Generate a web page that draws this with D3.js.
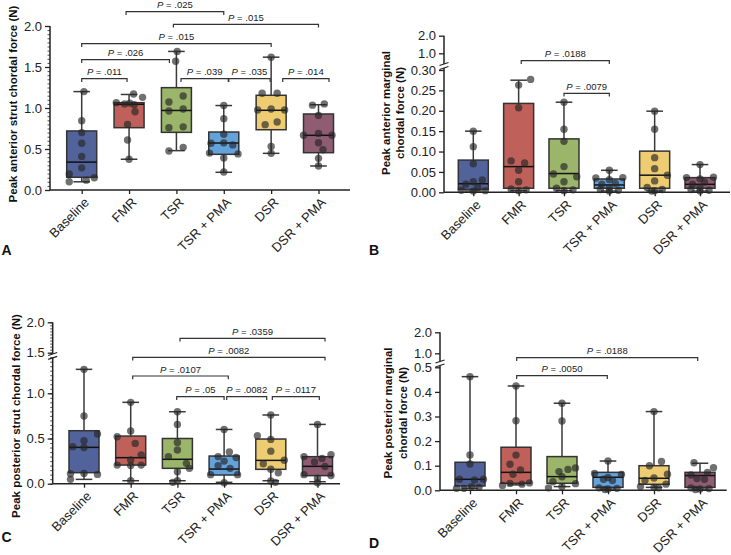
<!DOCTYPE html>
<html><head><meta charset="utf-8">
<script src="https://cdn.jsdelivr.net/npm/d3@7"></script>
<style>
body{margin:0;background:#fff}
svg{display:block;font-family:"Liberation Sans",Arial,Helvetica,sans-serif}
</style>
</head><body>
<svg id="chart" width="731" height="555"></svg>
<script>
// ---------------- DATA ----------------
const categories = ["Baseline", "FMR", "TSR", "TSR + PMA", "DSR", "DSR + PMA"];
const boxColors = ["#52639c", "#bf615a", "#9bb56b", "#64a2dc", "#eecd72", "#8f5c72"];

// Panel A: Peak anterior strut chordal force (N)   box = [min, q1, median, q3, max]
const boxesA = [
  [0.10, 0.155, 0.34, 0.72, 1.20],
  [0.375, 0.76, 1.045, 1.065, 1.165],
  [0.48, 0.703, 0.97, 1.248, 1.69],
  [0.216, 0.435, 0.573, 0.707, 1.03],
  [0.447, 0.735, 0.972, 1.155, 1.62],
  [0.293, 0.455, 0.667, 0.927, 1.04]
];
const pointsA = [
  [1.20, 0.845, 0.70, 0.57, 0.41, 0.27, 0.195, 0.10, 0.12, 0.15],
  [1.17, 1.13, 1.065, 1.05, 1.04, 0.955, 0.80, 0.61, 0.375, 1.06],
  [1.69, 1.57, 1.146, 1.073, 0.988, 0.963, 0.77, 0.76, 0.52, 0.475],
  [1.03, 0.87, 0.68, 0.575, 0.57, 0.45, 0.44, 0.55, 0.39, 0.22],
  [1.62, 1.18, 1.18, 0.976, 0.988, 0.976, 0.797, 0.83, 0.53, 0.447],
  [1.035, 1.05, 0.91, 0.667, 0.69, 0.667, 0.577, 0.49, 0.386, 0.293]
];
const jitterA = [
  [0.15, 0, 0, 0, 0, 0, -0.83, -0.83, 0.3, 0.84],
  [0.3, 0.9, -0.85, -0.3, 0.35, 0.4, -0.1, -0.1, 0, 0.05],
  [0.05, -0.05, 0.45, -0.5, 0.45, -0.5, 0.45, -0.5, 0.45, -0.5],
  [0, 0, 0, 0, -0.85, -0.95, 0.95, 0.6, 0, 0],
  [0, -0.6, 0.4, -0.9, 0, 0.9, -0.4, 0.4, 0, 0],
  [-0.4, 0.39, 0, -1, 0, 0.9, 0, 0.3, 0, 0]
];
const pvalsA = [[1, 3, ".025"], [2, 5, ".015"], [0, 4, ".015"], [0, 2, ".026"], [0, 1, ".011"], [2, 3, ".039"], [3, 4, ".035"], [4, 5, ".014"]];

// Panel B: Peak anterior marginal chordal force (N)
const boxesB = [
  [0.003, 0.007, 0.021, 0.079, 0.150],
  [0.004, 0.010, 0.063, 0.218, 0.275],
  [0.004, 0.010, 0.046, 0.131, 0.221],
  [0.003, 0.010, 0.018, 0.0326, 0.054],
  [0.003, 0.010, 0.042, 0.101, 0.199],
  [0.003, 0.010, 0.0196, 0.036, 0.068]
];
const pointsB = [
  [0.150, 0.112, 0.070, 0.030, 0.026, 0.020, 0.012, 0.005, 0.004, 0.003],
  [0.277, 0.263, 0.2075, 0.077, 0.072, 0.054, 0.026, 0.008, 0.006, 0.004],
  [0.221, 0.1545, 0.125, 0.063, 0.038, 0.045, 0.026, 0.010, 0.006, 0.004],
  [0.054, 0.035, 0.036, 0.031, 0.020, 0.022, 0.012, 0.007, 0.005, 0.003],
  [0.199, 0.1545, 0.085, 0.058, 0.042, 0.028, 0.012, 0.007, 0.004, 0.003],
  [0.068, 0.036, 0.037, 0.033, 0.025, 0.020, 0.012, 0.007, 0.005, 0.003]
];
const jitterB = [
  [0, 0, 0, 0.6, 0, -0.5, 0.3, -0.8, 0.8, 0],
  [0.8, 0, 0, -0.5, 0.4, 0, 0, -0.5, 0.5, 0],
  [0, 0, 0, 0, 0.85, -0.7, 0, -0.5, 0.6, 0],
  [0, -0.9, 0.9, 0, -0.5, 0.4, 0, -0.6, 0.6, 0],
  [0, 0, 0, 0, 0.85, 0, -0.5, 0.5, 0, -0.2],
  [0, -0.9, 0.9, 0, 0.3, -0.5, 0, -0.6, 0.6, 0]
];
const pvalsB = [[1, 3, ".0188"], [2, 3, ".0079"]];

// Panel C: Peak posterior strut chordal force (N)
const boxesC = [
  [0.048, 0.122, 0.402, 0.586, 1.265],
  [0.033, 0.206, 0.288, 0.527, 0.90],
  [0.033, 0.17, 0.27, 0.50, 0.796],
  [0.015, 0.096, 0.162, 0.306, 0.60],
  [0.033, 0.159, 0.258, 0.494, 0.76],
  [0.022, 0.089, 0.192, 0.299, 0.656]
];
const pointsC = [
  [1.265, 0.749, 0.549, 0.476, 0.41, 0.40, 0.114, 0.103, 0.11, 0.048],
  [0.90, 0.583, 0.52, 0.446, 0.317, 0.262, 0.206, 0.206, 0.20, 0.033],
  [0.796, 0.656, 0.457, 0.372, 0.30, 0.225, 0.17, 0.133, 0.033, 0.015],
  [0.60, 0.35, 0.30, 0.29, 0.25, 0.20, 0.17, 0.10, 0.10, 0.01],
  [0.76, 0.53, 0.49, 0.36, 0.26, 0.22, 0.16, 0.12, 0.03, 0.015],
  [0.656, 0.32, 0.30, 0.28, 0.24, 0.19, 0.10, 0.09, 0.06, 0.01]
];
const jitterC = [
  [0, 0, 0.9, 0, -0.75, 0, 0, 0.9, -0.9, -0.9],
  [0, 0, -0.9, 0.3, 0.7, 0, -0.9, 0.7, 0, 0],
  [0, 0, 0, 0, -0.6, 0.6, 0.8, 0, 0, -0.3],
  [0, 0.35, -0.4, 0.8, 0, -0.4, 0.4, -0.9, 0.9, 0],
  [0, -0.9, 0, 0, 0.9, -0.5, 0, 0.5, 0, 0.3],
  [0, 0.9, -0.9, 0.3, -0.2, 0.5, -0.9, 0.9, 0, 0]
];
const pvalsC = [[2, 5, ".0359"], [1, 5, ".0082"], [1, 3, ".0107"], [2, 3, ".05"], [3, 4, ".0082"], [4, 5, ".0117"]];

// Panel D: Peak posterior marginal chordal force (N)
const boxesD = [
  [0.008, 0.0176, 0.0447, 0.114, 0.462],
  [0.022, 0.0285, 0.073, 0.175, 0.424],
  [0.015, 0.0285, 0.0556, 0.137, 0.354],
  [0.005, 0.012, 0.053, 0.073, 0.119],
  [0.012, 0.0244, 0.0488, 0.100, 0.32],
  [0.005, 0.012, 0.06, 0.073, 0.11]
];
const pointsD = [
  [0.462, 0.144, 0.107, 0.045, 0.042, 0.045, 0.008, 0.008, 0.015, 0.012],
  [0.424, 0.283, 0.143, 0.106, 0.083, 0.065, 0.030, 0.028, 0.025, 0.020],
  [0.354, 0.282, 0.091, 0.085, 0.076, 0.055, 0.035, 0.027, 0.015, 0.010],
  [0.119, 0.068, 0.064, 0.052, 0.045, 0.040, 0.010, 0.008, 0.005, 0.003],
  [0.32, 0.117, 0.100, 0.065, 0.050, 0.040, 0.025, 0.015, 0.012, 0.010],
  [0.112, 0.092, 0.073, 0.062, 0.048, 0.045, 0.010, 0.007, 0.005, 0.003]
];
const jitterD = [
  [0, 0, 0, -0.7, 0.3, 0.9, -0.4, -0.9, 0.1, 0.6],
  [0, 0, 0, -0.4, 0.3, -0.2, 0.9, -0.4, 0.4, -0.9],
  [0, 0, 0.9, 0.4, -0.2, 0, -0.6, 0.9, 0, -0.9],
  [0, -0.9, 0.9, 0, -0.3, 0.3, -0.6, 0.6, 0, -0.2],
  [0, 0.5, -0.3, 0.9, 0, -0.6, 0.8, -0.9, 0, 0.3],
  [-0.4, 0.9, 0.5, -0.6, -0.2, 0.3, -0.6, 0.6, 0, -0.3]
];
const pvalsD = [[1, 5, ".0188"], [1, 3, ".0050"]];

// ---------------- LAYOUT ----------------
const panels = [
  {
    letter: "A", letterPos: [1.5, 255],
    title: ["Peak anterior strut chordal force (N)"], titleX: [12.8], titleY: 104,
    x0: 50, x1: 350, cx0: 81.7, cx1: 318.5, axisY: 190,
    segs: [
      {domain: [0, 2], range: [190, 26], vmax: 9, ticks: [0, 0.5, 1, 1.5, 2], fmt: ".1f", minor: 0.05, lineTop: 26, lineBot: 190}
    ],
    brackets: [[11.7, -3, 0], [24.3, -3, 0], [43.7, 0, 0], [59.7, 0, -7], [78.7, 0, -2], [78.7, 4.6, 4.5], [78.7, 5, -1], [78.7, 11.6, 10.5]],
    boxes: boxesA, points: pointsA, jitter: jitterA, pvals: pvalsA
  },
  {
    letter: "B", letterPos: [369, 255],
    title: ["Peak anterior marginal", "chordal force (N)"], titleX: [385.5, 400], titleY: 113,
    x0: 444, x1: 730, cx0: 473.3, cx1: 700, axisY: 192.3,
    segs: [
      {domain: [0, 0.3], range: [192.3, 70], vmax: 0.35, ticks: [0, 0.05, 0.1, 0.15, 0.2, 0.25, 0.3], fmt: ".2f", minor: 0, lineTop: 68, lineBot: 192.3},
      {domain: [1, 2], range: [53.3, 35.7], vmax: 9, ticks: [1, 2], fmt: ".1f", minor: 0, lineTop: 35.7, lineBot: 64}
    ],
    brackets: [[60.7, 2.6, 0], [93.3, 0, 0]],
    boxes: boxesB, points: pointsB, jitter: jitterB, pvals: pvalsB
  },
  {
    letter: "C", letterPos: [1.5, 542],
    title: ["Peak posterior strut chordal force (N)"], titleX: [15.5], titleY: 416,
    x0: 52.7, x1: 340, cx0: 84, cx1: 317.5, axisY: 483.7,
    segs: [
      {domain: [0, 1], range: [483.7, 393.3], vmax: 1.45, ticks: [0, 0.5, 1], fmt: ".1f", minor: 0.05, minorMax: 1.4, lineTop: 357.8, lineBot: 483.7},
      {domain: [1.5, 2], range: [352.7, 322.3], vmax: 9, ticks: [1.5, 2], fmt: ".1f", minor: 0.05, lineTop: 322.3, lineBot: 354}
    ],
    brackets: [[338.3, 2.6, 7.5], [357.3, 2, 7.5], [376, 2, 4.2], [396.7, -0.7, 0], [396.7, 2.6, -4.1], [396.7, 1.5, 1.8]],
    boxes: boxesC, points: pointsC, jitter: jitterC, pvals: pvalsC
  },
  {
    letter: "D", letterPos: [369, 548],
    title: ["Peak posterior marginal", "chordal force (N)"], titleX: [387.5, 403], titleY: 413,
    x0: 440, x1: 726.7, cx0: 470, cx1: 700, axisY: 490.3,
    segs: [
      {domain: [0, 0.5], range: [490.3, 367.3], vmax: 0.55, ticks: [0, 0.1, 0.2, 0.3, 0.4, 0.5], fmt: ".1f", minor: 0, lineTop: 365.5, lineBot: 490.3},
      {domain: [1, 2], range: [353.3, 332.3], vmax: 9, ticks: [1, 2], fmt: ".1f", minor: 0, lineTop: 332.3, lineBot: 361.5}
    ],
    brackets: [[357.7, 0.7, -2.3], [375.7, 0.7, -0.7]],
    boxes: boxesD, points: pointsD, jitter: jitterD, pvals: pvalsD
  }
];

const INK = "#222";
const svg = d3.select("#chart");

function drawPanel(p) {
  const g = svg.append("g");
  const x = d3.scalePoint().domain(categories).range([p.cx0, p.cx1]);
  const segs = p.segs.map(s => Object.assign({}, s, {scale: d3.scaleLinear().domain(s.domain).range(s.range)}));
  const y = v => segs.find(s => v <= s.vmax).scale(v);
  const halfW = 15, capW = 8.3;

  // y axis segments
  segs.forEach((s, i) => {
    const ax = g.append("g").attr("transform", `translate(${p.x0},0)`);
    if (s.minor) {
      const mmax = s.minorMax !== undefined ? s.minorMax : s.domain[1];
      const minors = d3.range(s.domain[0], mmax + 1e-9, s.minor);
      ax.append("g").call(d3.axisLeft(s.scale).tickValues(minors).tickSize(2.5).tickFormat(""))
        .call(a => a.select(".domain").remove())
        .selectAll("line").attr("stroke", INK).attr("stroke-width", 0.8);
    }
    ax.append("g").call(d3.axisLeft(s.scale).tickValues(s.ticks).tickSize(5).tickPadding(3).tickFormat(d3.format(s.fmt)))
      .call(a => a.select(".domain").remove())
      .call(a => a.selectAll("line").attr("stroke", INK).attr("stroke-width", 1.3))
      .call(a => a.selectAll("text").attr("fill", INK).style("font-size", "13px").style("font-family", "'Liberation Sans',Arial,sans-serif"));
    ax.append("line").attr("x1", 0).attr("x2", 0).attr("y1", s.lineTop).attr("y2", s.lineBot)
      .attr("stroke", INK).attr("stroke-width", 1.5);
    // break marks
    if (segs.length > 1) {
      const ys = i === 0 ? [s.lineTop] : [s.lineBot];
      ys.forEach(yy => ax.append("line").attr("x1", -4.5).attr("x2", 4.5).attr("y1", yy + 1.5).attr("y2", yy - 1.5)
        .attr("stroke", INK).attr("stroke-width", 1.3));
    }
  });

  // x axis
  g.append("line").attr("x1", p.x0).attr("x2", p.x1).attr("y1", p.axisY).attr("y2", p.axisY)
    .attr("stroke", INK).attr("stroke-width", 1.5);
  g.append("g").attr("transform", `translate(0,${p.axisY})`)
    .call(d3.axisBottom(x).tickSize(4).tickFormat(""))
    .call(a => a.select(".domain").remove())
    .selectAll("line").attr("stroke", INK).attr("stroke-width", 1.3);
  g.append("g").selectAll("text").data(categories).join("text")
    .attr("transform", d => `translate(${x(d) + 5},${p.axisY + 10}) rotate(-45)`)
    .attr("text-anchor", "end").attr("dy", "0.35em")
    .style("font-size", "13px").attr("fill", INK).text(d => d);

  // boxes
  const bg = g.append("g");
  categories.forEach((c, i) => {
    const [mn, q1, md, q3, mx] = p.boxes[i];
    const cx = x(c);
    const wg = bg.append("g").attr("stroke", "#3a3a3a").attr("stroke-width", 1.5);
    wg.append("line").attr("x1", cx).attr("x2", cx).attr("y1", y(q3)).attr("y2", y(mx));
    wg.append("line").attr("x1", cx).attr("x2", cx).attr("y1", y(q1)).attr("y2", y(mn));
    wg.append("line").attr("x1", cx - capW).attr("x2", cx + capW).attr("y1", y(mx)).attr("y2", y(mx));
    wg.append("line").attr("x1", cx - capW).attr("x2", cx + capW).attr("y1", y(mn)).attr("y2", y(mn));
    bg.append("rect").attr("x", cx - halfW).attr("width", 2 * halfW)
      .attr("y", y(q3)).attr("height", Math.max(0.5, y(q1) - y(q3)))
      .attr("fill", boxColors[i]).attr("stroke", "#333").attr("stroke-width", 1.5);
    bg.append("line").attr("x1", cx - halfW).attr("x2", cx + halfW).attr("y1", y(md)).attr("y2", y(md))
      .attr("stroke", "#111").attr("stroke-width", 1.5);
  });

  // points
  const pts = [];
  categories.forEach((c, i) => p.points[i].forEach((v, j) => pts.push({cx: x(c) + p.jitter[i][j] * halfW, v})));
  g.append("g").selectAll("circle").data(pts).join("circle")
    .attr("cx", d => d.cx).attr("cy", d => y(d.v)).attr("r", 3.7)
    .attr("fill", "#262626").attr("fill-opacity", 0.66);

  // significance brackets
  const br = g.append("g");
  p.pvals.forEach(([a, b, lab], k) => {
    const [by, d1, d2] = p.brackets[k];
    const xa = x(categories[a]) + d1, xb = x(categories[b]) + d2;
    br.append("path").attr("d", `M${xa},${by + 3.3}V${by}H${xb}V${by + 3.3}`)
      .attr("fill", "none").attr("stroke", "#333").attr("stroke-width", 1.2);
    const t = br.append("text").attr("x", (xa + xb) / 2).attr("y", by - 3.5).attr("text-anchor", "middle")
      .style("font-size", "9.5px").attr("fill", INK);
    t.append("tspan").style("font-style", "italic").text("P");
    t.append("tspan").text(" = " + lab);
  });

  // y title
  p.title.forEach((line, k) => {
    g.append("text").attr("transform", `translate(${p.titleX[k]},${p.titleY}) rotate(-90)`)
      .attr("text-anchor", "middle").attr("dy", "0.35em")
      .style("font-size", "11.5px").style("font-weight", "bold").attr("fill", "#111").text(line);
  });

  // panel letter
  g.append("text").attr("x", p.letterPos[0]).attr("y", p.letterPos[1])
    .style("font-size", "14px").style("font-weight", "bold").attr("fill", "#111").text(p.letter);
}

panels.forEach(drawPanel);
</script>
</body></html>
